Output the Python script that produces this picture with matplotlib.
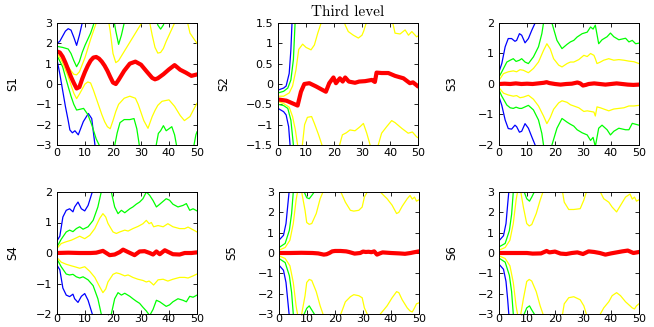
import matplotlib
matplotlib.use('Agg')
import matplotlib.pyplot as plt
from matplotlib.ticker import FuncFormatter

# ---- S1 ----
s1_red_x = [0, 1, 2, 3, 4, 5, 6, 7, 8, 9, 10, 11, 12, 13, 14, 15, 16, 17, 18, 19, 20, 21, 22, 24, 26, 28, 30, 32, 34, 35, 36, 38, 40, 42, 44, 46, 48, 50]
s1_red_y = [1.6, 1.55, 1.35, 1.05, 0.7, 0.35, 0.05, -0.22, -0.15, 0.25, 0.6, 0.9, 1.15, 1.3, 1.33, 1.25, 1.1, 0.9, 0.65, 0.35, 0.07, 0.0, 0.2, 0.65, 1.0, 1.1, 0.95, 0.62, 0.3, 0.23, 0.28, 0.48, 0.72, 0.93, 0.7, 0.56, 0.4, 0.47]
s1_yu_x = [0, 1, 2, 3, 4, 5, 6, 7, 8, 9, 10, 11, 12, 13, 14, 15, 18, 19, 20, 21, 22, 24, 26, 28, 30, 31, 32, 33, 34, 35, 36, 37, 38, 39, 40, 41, 42, 43, 46, 47.5, 49, 50]
s1_yu_y = [1.65, 1.5, 1.3, 1.05, 0.85, 0.65, 0.48, 0.45, 0.6, 0.95, 1.3, 1.75, 2.2, 2.6, 3.0, 3.5, 3.5, 2.6, 1.5, 1.05, 1.15, 1.6, 2.05, 2.5, 2.95, 3.3, 3.4, 3.1, 2.4, 1.8, 1.52, 1.55, 1.75, 2.1, 2.4, 2.7, 3.0, 3.4, 3.4, 2.5, 2.2, 2.0]
s1_yl_x = [0, 1, 2, 3, 4, 5, 6, 7, 8, 9, 10, 11, 12, 13, 14, 15, 16, 17, 18, 19, 20, 21, 22, 23, 24, 26, 28, 29, 30, 31, 32.5, 34, 35, 36, 37.5, 40, 42, 44, 45.5, 47.5, 49, 50]
s1_yl_y = [1.5, 1.3, 1.05, 0.7, 0.36, -0.05, -0.45, -0.72, -0.5, -0.25, 0.0, 0.1, 0.05, -0.3, -0.7, -1.1, -1.5, -1.85, -2.1, -2.2, -1.8, -1.35, -1.0, -0.85, -0.7, -0.6, -0.7, -1.0, -1.4, -1.8, -2.18, -1.6, -1.3, -1.05, -0.85, -0.78, -1.1, -1.55, -1.8, -1.6, -1.2, -0.95]
s1_gu_x = [0, 2, 4, 5, 6, 7, 8, 9, 10, 11, 12, 13, 14, 20, 21, 22, 23, 24, 25, 35, 36, 37, 38, 39, 50]
s1_gu_y = [1.85, 1.8, 1.72, 1.5, 1.15, 0.85, 1.1, 1.55, 1.9, 2.2, 2.5, 2.9, 3.4, 3.4, 2.6, 1.95, 2.4, 3.0, 3.4, 3.4, 2.9, 2.7, 2.9, 3.4, 3.4]
s1_gl_x = [0, 2, 4, 5, 6, 7, 8, 9.5, 11, 12.4, 14, 15.4, 20.5, 21.5, 22.5, 24, 26, 27.5, 28.5, 29.5, 35.3, 36.2, 37, 38, 39, 40, 41, 42, 42.8, 48.8, 49.6, 50]
s1_gl_y = [1.4, 0.85, -0.13, -0.6, -1.0, -1.28, -1.25, -1.2, -1.5, -2.0, -2.7, -3.1, -3.1, -2.4, -1.9, -1.75, -1.75, -1.7, -2.2, -3.1, -3.1, -2.43, -2.3, -2.05, -2.3, -2.2, -2.1, -2.5, -3.1, -3.1, -2.5, -2.35]
s1_bu_x = [0, 1, 2, 3, 4, 5, 6, 7, 8, 9, 10]
s1_bu_y = [2.0, 2.1, 2.35, 2.6, 2.72, 2.65, 2.3, 1.9, 2.4, 3.0, 3.6]
s1_bl_x = [0, 1, 2, 3, 4, 4.6, 5.5, 6.4, 7.6, 9.4, 11.2, 12.4, 13.6, 14]
s1_bl_y = [1.2, 0.5, -0.3, -1.1, -1.8, -2.26, -2.4, -2.3, -2.5, -1.85, -1.45, -1.7, -3.05, -3.5]

# ---- S2 ----
s2_red_x = [0, 3, 5, 7, 8.2, 9.4, 11.2, 13.6, 16, 17.1, 18.3, 19.8, 20.7, 22.1, 23.1, 24, 25.3, 27.5, 29, 31.1, 33.5, 34.6, 35.2, 37, 39.4, 41.8, 44.8, 47.1, 48.2, 49.5, 50]
s2_red_y = [-0.38, -0.41, -0.47, -0.53, -0.19, 0.0, 0.02, -0.06, -0.15, -0.19, 0.02, 0.16, 0.02, 0.14, 0.06, 0.16, 0.06, 0.03, 0.06, 0.07, 0.1, 0.05, 0.28, 0.27, 0.27, 0.2, 0.14, 0.02, 0.04, -0.03, -0.06]
s2_yu_x = [0, 2, 4, 5.2, 6.4, 7.4, 8.8, 10, 11.8, 13, 14.2, 15.4, 16.5, 23, 24, 25.1, 26.9, 28.7, 30, 30.6, 31.5, 32, 40, 41, 41.8, 43.6, 45.4, 46.6, 47.8, 49.5, 50]
s2_yu_y = [-0.3, -0.3, -0.22, -0.05, 0.34, 0.85, 0.98, 0.9, 0.84, 0.96, 1.25, 1.5, 1.7, 1.7, 1.45, 1.29, 1.2, 1.13, 1.2, 1.3, 1.5, 1.7, 1.7, 1.5, 1.25, 1.23, 1.33, 1.2, 1.29, 1.16, 1.18]
s2_yl_x = [0, 2, 4, 5.2, 6.2, 7, 8, 8.7, 9.5, 10.5, 12, 13, 14.5, 15.7, 16.5, 21, 22, 23, 24.4, 25.7, 27.5, 29.3, 30.5, 31.7, 32.9, 33.5, 35, 35.8, 37, 38.8, 40.6, 41.8, 44.2, 46.5, 48, 49.5, 50]
s2_yl_y = [-0.43, -0.48, -0.57, -0.8, -1.13, -1.5, -1.8, -1.5, -1.0, -0.82, -0.8, -0.97, -1.25, -1.5, -1.7, -1.7, -1.5, -1.25, -1.2, -1.13, -1.15, -1.05, -0.97, -1.21, -1.5, -1.7, -1.7, -1.5, -1.21, -1.05, -0.9, -0.95, -1.09, -1.21, -1.18, -1.3, -1.32]
s2_gu_x = [0, 2, 3.5, 4.6, 5.5, 6.1, 6.5]
s2_gu_y = [-0.22, -0.18, -0.1, 0.1, 0.6, 1.5, 2.0]
s2_gl_x = [0, 2, 3.5, 4.6, 5.5, 6]
s2_gl_y = [-0.5, -0.53, -0.6, -0.89, -1.5, -2.0]
s2_bu_x = [0, 2, 2.9, 4, 4.6, 5, 5.3]
s2_bu_y = [-0.15, -0.1, -0.05, 0.26, 0.84, 1.5, 2.0]
s2_bl_x = [0, 2, 2.9, 3.8, 4.3, 4.6]
s2_bl_y = [-0.6, -0.68, -0.76, -1.05, -1.5, -2.0]

# ---- S3 ----
s3_red_x = [0, 2, 4, 6, 8, 10, 12, 14, 16, 17, 18, 20, 22, 24, 26, 28, 29, 30, 31, 32, 34, 36, 38, 40, 42, 44, 46, 48, 50]
s3_red_y = [0.0, 0.01, 0.0, 0.02, 0.0, 0.01, 0.0, 0.02, 0.04, 0.06, 0.03, 0.0, -0.02, 0.0, 0.01, 0.05, 0.02, -0.05, -0.03, 0.0, 0.02, 0.0, -0.02, 0.0, 0.02, 0.0, -0.02, -0.03, -0.02]
s3_y_x = [0, 1.6, 3.3, 5.1, 6.3, 7.5, 8.7, 10.5, 12.3, 14.1, 15.9, 17.1, 18.3, 19.5, 21.3, 22.5, 24.3, 25.5, 26.7, 28.5, 30.3, 31.5, 32.7, 33.9, 34.4, 35, 36.2, 37.4, 39.2, 41, 42.8, 44.6, 46.4, 48.2, 50]
s3_yu_y = [0.12, 0.34, 0.4, 0.43, 0.4, 0.47, 0.45, 0.37, 0.51, 0.72, 1.1, 1.32, 1.15, 0.83, 0.62, 0.56, 0.67, 0.72, 0.72, 0.8, 0.94, 0.9, 1.0, 0.94, 0.83, 0.67, 0.72, 0.78, 0.83, 0.78, 0.8, 0.78, 0.75, 0.73, 0.67]
s3_yl_y = [-0.12, -0.3, -0.36, -0.4, -0.38, -0.45, -0.43, -0.37, -0.5, -0.72, -1.05, -1.3, -1.1, -0.83, -0.62, -0.55, -0.6, -0.68, -0.72, -0.78, -0.9, -0.88, -0.9, -0.92, -1.05, -0.75, -0.78, -0.82, -0.88, -0.82, -0.8, -0.78, -0.72, -0.72, -0.7]
s3_g_x = [0, 1, 2.8, 4, 5.1, 6.1, 7.3, 8.1, 9.3, 10.5, 12.3, 14.1, 15.3, 15.9, 16.5, 18.5, 18.9, 20.7, 22.5, 24.3, 25.5, 26.7, 27.9, 29.7, 31.5, 32.7, 33.6, 34.4, 35.6, 36.8, 38.6, 39.8, 41, 42.8, 45.2, 46.4, 47.6, 48.8, 50]
s3_gu_y = [0.23, 0.4, 0.72, 0.78, 0.83, 0.74, 0.78, 0.83, 0.72, 0.67, 0.89, 1.22, 1.65, 2.0, 2.3, 2.3, 2.0, 1.43, 1.16, 1.3, 1.38, 1.43, 1.54, 1.65, 1.7, 1.87, 1.8, 1.93, 1.32, 1.45, 1.55, 1.67, 1.55, 1.45, 1.5, 1.38, 1.43, 1.32, 1.34]
s3_gl_y = [-0.2, -0.4, -0.69, -0.78, -0.8, -0.76, -0.8, -0.8, -0.75, -0.7, -0.85, -1.18, -1.62, -2.0, -2.3, -2.3, -2.0, -1.45, -1.13, -1.25, -1.32, -1.38, -1.5, -1.6, -1.67, -1.85, -1.75, -2.05, -1.45, -1.35, -1.5, -1.67, -1.55, -1.45, -1.5, -1.5, -1.29, -1.32, -1.35]
s3_b_x = [0, 1, 2.2, 3.3, 4.5, 5.7, 6.3, 7.3, 8.1, 9.3, 10.5, 11.7, 12.9, 13.5]
s3_bu_y = [0.4, 0.67, 1.22, 1.49, 1.49, 1.4, 1.43, 1.65, 1.6, 1.35, 1.49, 1.76, 2.0, 2.2]
s3_bl_y = [-0.42, -0.7, -1.18, -1.46, -1.48, -1.35, -1.4, -1.58, -1.55, -1.3, -1.45, -1.73, -2.0, -2.2]

# ---- S4 ----
s4_red_x = [0, 4, 8, 12, 14, 16.4, 18.8, 20.6, 22.4, 23.6, 25.4, 27.7, 29.5, 31.3, 33.1, 34.3, 35.5, 36.7, 38.5, 39.6, 41.4, 43.8, 45.6, 48, 50]
s4_red_y = [0.0, 0.01, 0.0, 0.0, 0.01, 0.07, -0.07, -0.05, 0.03, 0.11, 0.03, -0.07, 0.05, 0.06, 0.0, -0.05, 0.05, -0.04, 0.09, 0.04, -0.04, -0.05, 0.0, 0.0, 0.02]
s4_y_x = [0, 1.5, 3.3, 5.1, 6.3, 8.1, 9.9, 11.7, 13.5, 15.2, 16.4, 17.4, 18.2, 20, 21.2, 22.4, 24.2, 25.4, 27.1, 28.9, 30.7, 31.9, 32.9, 33.7, 34.5, 36.1, 37.9, 39.6, 41.4, 43.8, 45.6, 46.8, 48.6, 50]
s4_yu_y = [0.15, 0.31, 0.37, 0.42, 0.47, 0.55, 0.47, 0.58, 0.8, 1.13, 1.29, 1.18, 0.97, 0.69, 0.64, 0.69, 0.75, 0.72, 0.8, 0.87, 0.96, 1.07, 0.96, 1.0, 0.86, 0.9, 0.86, 0.96, 0.86, 0.8, 0.8, 0.85, 0.76, 0.69]
s4_yl_y = [-0.15, -0.3, -0.37, -0.42, -0.45, -0.5, -0.45, -0.6, -0.8, -1.1, -1.3, -1.18, -0.95, -0.7, -0.65, -0.68, -0.75, -0.72, -0.8, -0.86, -0.9, -0.95, -0.92, -0.98, -1.05, -0.88, -0.86, -0.92, -0.86, -0.8, -0.8, -0.82, -0.75, -0.69]
s4_g_x = [0, 1.5, 3.3, 4.5, 5.7, 6.9, 8.1, 9.3, 11.1, 12.9, 14.6, 15.8, 16.5, 18.7, 19.4, 20.6, 21.8, 23, 24.2, 26, 27.1, 28.3, 29.5, 30.7, 31.9, 33.1, 34.3, 35.5, 36.7, 39, 40.2, 41.4, 43.2, 45, 46.2, 47.4, 48.6, 50]
s4_gu_y = [0.2, 0.45, 0.69, 0.75, 0.7, 0.8, 0.86, 0.78, 0.86, 1.07, 1.51, 2.0, 2.3, 2.3, 2.0, 1.51, 1.29, 1.4, 1.32, 1.45, 1.51, 1.6, 1.67, 1.78, 2.0, 1.89, 1.72, 1.51, 1.6, 1.78, 1.73, 1.6, 1.51, 1.56, 1.62, 1.4, 1.45, 1.38]
s4_gl_y = [-0.2, -0.45, -0.69, -0.72, -0.7, -0.78, -0.82, -0.78, -0.88, -1.07, -1.5, -2.0, -2.3, -2.3, -2.0, -1.5, -1.3, -1.38, -1.32, -1.42, -1.5, -1.58, -1.65, -1.78, -1.9, -2.05, -1.85, -1.55, -1.6, -1.75, -1.7, -1.6, -1.5, -1.55, -1.6, -1.42, -1.45, -1.38]
s4_b_x = [0, 1, 2.1, 3.3, 4.5, 5.7, 6.3, 7.5, 8.7, 9.9, 11.1, 12.6, 13.2]
s4_bu_y = [0.4, 0.55, 1.18, 1.4, 1.45, 1.35, 1.51, 1.67, 1.45, 1.38, 1.56, 2.0, 2.2]
s4_bl_y = [-0.4, -0.55, -1.15, -1.38, -1.43, -1.35, -1.5, -1.62, -1.42, -1.33, -1.55, -2.0, -2.2]

# ---- S5 ----
s5_red_x = [0, 4, 8, 12, 14, 16, 17, 18, 19, 20, 22, 24, 25, 27, 29, 30, 31, 32, 33, 34, 35, 36, 37, 40, 43, 45, 47, 48, 50]
s5_red_y = [0.0, 0.0, 0.01, 0.0, -0.02, -0.08, -0.06, 0.0, 0.08, 0.1, 0.1, 0.08, 0.05, -0.03, 0.0, 0.07, 0.05, 0.06, 0.04, 0.08, -0.08, -0.02, 0.03, 0.0, -0.02, -0.04, 0.0, 0.03, 0.08]
s5_y_x = [0, 2.2, 3.9, 5.1, 6.1, 6.6, 7.2, 8.1, 9.3, 9.9, 10.8, 11.7, 13.3, 14.7, 15.7, 16.5, 21.5, 22.1, 23.7, 25.5, 26.7, 28.5, 29.7, 30.5, 31.5, 32.5, 35.5, 36.2, 37.4, 38.6, 40.4, 42, 42.8, 44, 45.8, 46.8, 47.6, 48.4, 49.1, 50]
s5_yu_y = [0.14, 0.27, 0.63, 1.45, 2.6, 3.0, 3.5, 3.0, 2.1, 1.5, 1.41, 1.45, 1.94, 2.67, 3.0, 3.4, 3.4, 3.0, 2.5, 2.1, 2.06, 2.1, 2.26, 2.75, 3.0, 3.4, 3.3, 3.0, 2.83, 2.67, 2.35, 1.94, 2.0, 2.3, 2.67, 2.83, 2.65, 2.75, 2.55, 2.62]
s5_yl_y = [-0.14, -0.27, -0.63, -1.45, -2.6, -3.0, -3.5, -3.0, -2.1, -1.45, -1.3, -1.35, -1.9, -2.6, -3.0, -3.4, -3.4, -3.0, -2.4, -2.15, -2.05, -2.1, -2.2, -2.7, -3.0, -3.4, -3.3, -3.0, -2.8, -2.6, -2.2, -1.9, -1.95, -2.3, -2.7, -2.85, -2.9, -2.7, -2.5, -2.45]
s5_g_x = [0, 2.2, 3.7, 4.5, 5.1, 5.5, 7, 8.5, 9, 9.9, 10.8, 11.7, 12.6, 13.3]
s5_gu_y = [0.27, 0.47, 1.12, 1.94, 3.0, 3.6, 4.5, 3.4, 3.0, 2.72, 2.67, 2.83, 3.0, 3.4]
s5_gl_y = [-0.27, -0.47, -1.12, -1.94, -3.0, -3.6, -4.5, -3.4, -3.0, -2.72, -2.6, -2.8, -3.0, -3.4]
s5_b_x = [0, 1.6, 2.5, 3.1, 3.6, 4.0]
s5_bu_y = [0.63, 0.87, 1.45, 2.3, 3.0, 3.6]
s5_bl_y = [-0.6, -0.85, -1.45, -2.3, -3.0, -3.6]

# ---- S6 ----
s6_red_x = [0, 5, 10, 12, 15, 17, 18, 20, 22, 24, 26, 28, 30, 32, 34, 36, 38, 40, 42, 44, 46, 48, 50]
s6_red_y = [0.0, 0.0, 0.0, -0.03, -0.02, 0.1, 0.03, 0.07, -0.03, -0.05, 0.0, 0.03, -0.05, 0.08, 0.05, 0.0, -0.08, -0.02, 0.03, 0.08, 0.12, 0.0, 0.05]
s6_y_x = [0, 2.2, 3.9, 5.1, 6.1, 6.6, 7.2, 7.8, 8.7, 9.9, 10.8, 11.7, 13.3, 14.7, 15.7, 16.5, 22, 22.7, 23.3, 24.9, 26.7, 29, 30.3, 31.2, 32, 35.5, 36.2, 37.4, 39.2, 40.4, 42, 43.4, 45.2, 46.8, 47.6, 48.4, 49.1, 50]
s6_yu_y = [0.14, 0.27, 0.63, 1.45, 2.6, 3.0, 3.5, 3.0, 2.26, 1.45, 1.33, 1.4, 1.94, 2.6, 3.0, 3.4, 3.4, 3.0, 2.5, 2.14, 2.14, 2.18, 2.6, 3.0, 3.4, 3.3, 3.0, 2.67, 2.5, 2.26, 2.02, 2.34, 2.75, 2.9, 2.65, 2.75, 2.55, 2.62]
s6_yl_y = [-0.14, -0.27, -0.63, -1.45, -2.6, -3.0, -3.5, -3.0, -2.26, -1.4, -1.3, -1.38, -1.9, -2.6, -3.0, -3.4, -3.4, -3.0, -2.5, -2.2, -2.15, -2.3, -2.6, -3.0, -3.4, -3.3, -3.0, -2.7, -2.4, -2.1, -1.95, -2.1, -2.4, -2.6, -2.7, -2.75, -2.6, -2.5]
s6_g_x = [0, 2.2, 3.7, 4.5, 5.1, 5.5, 7, 8.5, 9, 9.9, 10.9, 11.7, 12.6, 13.3]
s6_gu_y = [0.3, 0.47, 1.1, 1.9, 3.0, 3.6, 4.5, 3.4, 3.0, 2.67, 2.55, 2.75, 3.0, 3.4]
s6_gl_y = [-0.25, -0.45, -1.1, -1.9, -3.0, -3.6, -4.5, -3.4, -3.0, -2.7, -2.6, -2.8, -3.0, -3.4]
s6_b_x = [0, 1.6, 2.5, 3.1, 3.5, 4.0]
s6_bu_y = [0.6, 0.85, 1.45, 2.4, 3.0, 3.7]
s6_bl_y = [-0.55, -0.8, -1.4, -2.3, -3.0, -3.7]

BLUE, GREEN, YELLOW, RED = '#0000ff', '#00ff00', '#ffff00', '#ff0000'

plt.rcParams['font.family'] = 'DejaVu Sans'
plt.rcParams['font.size'] = 8

fig = plt.figure(figsize=(6.54, 3.27), dpi=100)
W, H = 654.0, 327.0


def make_ax(left_px, top_px):
    return fig.add_axes([left_px / W, 1 - (top_px + 122) / H, 140 / W, 122 / H])


fmt = FuncFormatter(lambda v, p: ('%g' % v).replace('-', '\u2212'))


def panel(ax, bands, red, ylim, ystep, name, labx, xpad):
    for (x, y, c) in bands:
        ax.plot(x, y, color=c, lw=0.9)
    ax.plot(red[0], red[1], color=RED, lw=3.0, solid_capstyle='round')
    ax.set_xlim(0, 50)
    ax.set_ylim(-ylim, ylim)
    ax.set_xticks(range(0, 51, 10))
    n = int(round(2 * ylim / ystep))
    ax.set_yticks([-ylim + i * ystep for i in range(n + 1)])
    ax.yaxis.set_major_formatter(fmt)
    ax.tick_params(direction='in', top=True, right=True, length=3, width=0.6,
                   labelsize=8)
    ax.tick_params(axis='y', pad=3.5)
    ax.tick_params(axis='x', pad=xpad)
    for s in ax.spines.values():
        s.set_linewidth(0.7)
    ax.set_ylabel(name, va='center', fontsize=8.5)
    ax.yaxis.set_label_coords(labx, 0.5)


ax1 = make_ax(57, 23)
panel(ax1, [(s1_bu_x, s1_bu_y, BLUE), (s1_bl_x, s1_bl_y, BLUE),
            (s1_gu_x, s1_gu_y, GREEN), (s1_gl_x, s1_gl_y, GREEN),
            (s1_yu_x, s1_yu_y, YELLOW), (s1_yl_x, s1_yl_y, YELLOW)],
      (s1_red_x, s1_red_y), 3, 1, 'S1', -0.318, 2.5)

ax2 = make_ax(278, 23)
panel(ax2, [(s2_bu_x, s2_bu_y, BLUE), (s2_bl_x, s2_bl_y, BLUE),
            (s2_gu_x, s2_gu_y, GREEN), (s2_gl_x, s2_gl_y, GREEN),
            (s2_yu_x, s2_yu_y, YELLOW), (s2_yl_x, s2_yl_y, YELLOW)],
      (s2_red_x, s2_red_y), 1.5, 0.5, 'S2', -0.389, 2.5)
ax2.set_title('Third level', fontfamily='cmr10', fontsize=11, pad=5)

ax3 = make_ax(499, 23)
panel(ax3, [(s3_b_x, s3_bu_y, BLUE), (s3_b_x, s3_bl_y, BLUE),
            (s3_g_x, s3_gu_y, GREEN), (s3_g_x, s3_gl_y, GREEN),
            (s3_y_x, s3_yu_y, YELLOW), (s3_y_x, s3_yl_y, YELLOW)],
      (s3_red_x, s3_red_y), 2, 1, 'S3', -0.336, 2.5)

ax4 = make_ax(57, 192)
panel(ax4, [(s4_b_x, s4_bu_y, BLUE), (s4_b_x, s4_bl_y, BLUE),
            (s4_g_x, s4_gu_y, GREEN), (s4_g_x, s4_gl_y, GREEN),
            (s4_y_x, s4_yu_y, YELLOW), (s4_y_x, s4_yl_y, YELLOW)],
      (s4_red_x, s4_red_y), 2, 1, 'S4', -0.318, 0)

ax5 = make_ax(279, 192)
panel(ax5, [(s5_b_x, s5_bu_y, BLUE), (s5_b_x, s5_bl_y, BLUE),
            (s5_g_x, s5_gu_y, GREEN), (s5_g_x, s5_gl_y, GREEN),
            (s5_y_x, s5_yu_y, YELLOW), (s5_y_x, s5_yl_y, YELLOW)],
      (s5_red_x, s5_red_y), 3, 1, 'S5', -0.34, 0)

ax6 = make_ax(499, 192)
panel(ax6, [(s6_b_x, s6_bu_y, BLUE), (s6_b_x, s6_bl_y, BLUE),
            (s6_g_x, s6_gu_y, GREEN), (s6_g_x, s6_gl_y, GREEN),
            (s6_y_x, s6_yu_y, YELLOW), (s6_y_x, s6_yl_y, YELLOW)],
      (s6_red_x, s6_red_y), 3, 1, 'S6', -0.336, 0)

fig.savefig('out.png', dpi=100)
